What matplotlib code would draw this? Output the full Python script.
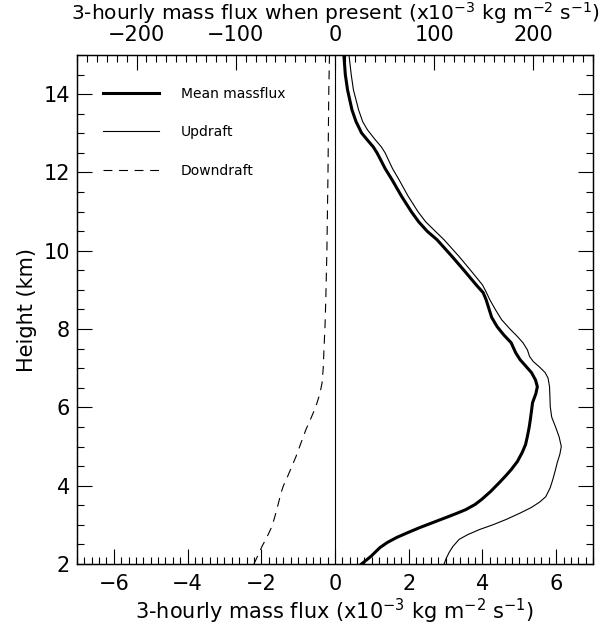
import matplotlib
matplotlib.use('Agg')
import matplotlib.pyplot as plt
from matplotlib.ticker import MultipleLocator

# mean mass flux (thick)
mean_height = [2.0, 2.2, 2.42, 2.55, 2.68, 2.8, 2.93, 3.06, 3.19, 3.3, 3.39, 3.52,
               3.65, 3.85, 4.08, 4.25, 4.41, 4.62, 4.85, 5.05, 5.26, 5.5, 5.69, 5.9,
               6.12, 6.35, 6.53, 6.7, 6.89, 7.05, 7.22, 7.4, 7.65, 7.85, 8.06, 8.3,
               8.57, 8.75, 8.93, 9.13, 9.5, 9.85, 10.28, 10.5, 10.74, 11.0, 11.4,
               11.81, 12.1, 12.32, 12.5, 12.65, 12.85, 13.01, 13.3, 13.6, 14.11,
               14.5, 15.0]
mean_flux = [0.72, 0.98, 1.22, 1.42, 1.68, 1.97, 2.30, 2.66, 3.02, 3.32, 3.55, 3.80,
             3.98, 4.22, 4.46, 4.63, 4.78, 4.95, 5.08, 5.17, 5.22, 5.27, 5.30, 5.33,
             5.36, 5.45, 5.49, 5.44, 5.33, 5.18, 5.02, 4.90, 4.78, 4.58, 4.40, 4.25,
             4.16, 4.10, 4.02, 3.83, 3.50, 3.18, 2.77, 2.50, 2.27, 2.07, 1.80,
             1.55, 1.36, 1.24, 1.14, 1.04, 0.86, 0.72, 0.57, 0.46, 0.34,
             0.28, 0.24]

# updraft (thin)
up_height = [2.0, 2.15, 2.3, 2.45, 2.63, 2.75, 2.88, 3.0, 3.14, 3.3, 3.44, 3.58,
             3.72, 3.95, 4.16, 4.4, 4.59, 4.8, 5.0, 5.25, 5.51, 5.75, 6.02, 6.3,
             6.53, 6.75, 6.89, 7.03, 7.17, 7.3, 7.47, 7.65, 7.81, 8.0, 8.24, 8.5,
             8.75, 8.95, 9.13, 9.5, 9.85, 10.28, 10.5, 10.74, 11.0, 11.4, 11.81,
             12.1, 12.32, 12.5, 12.65, 12.85, 13.09, 13.3, 13.6, 14.11, 14.5, 15.0]
up_flux = [2.96, 3.02, 3.10, 3.20, 3.37, 3.60, 3.92, 4.28, 4.65, 5.02, 5.32, 5.55,
           5.72, 5.84, 5.91, 5.98, 6.03, 6.10, 6.14, 6.08, 5.98, 5.88, 5.84, 5.83,
           5.82, 5.78, 5.70, 5.55, 5.38, 5.28, 5.22, 5.10, 4.95, 4.75, 4.52, 4.35,
           4.20, 4.10, 4.00, 3.68, 3.37, 2.96, 2.72, 2.46, 2.25, 1.98, 1.74,
           1.56, 1.45, 1.36, 1.26, 1.08, 0.88, 0.75, 0.64, 0.50, 0.44, 0.38]

# downdraft (dashed)
down_height = [2.0, 2.2, 2.45, 2.7, 2.96, 3.25, 3.57, 3.8, 4.0, 4.16, 4.45, 4.74,
               5.1, 5.43, 5.75, 6.02, 6.35, 6.63, 7.0, 7.47, 8.1, 8.75, 10.0, 12.0,
               14.0, 15.0]
down_flux = [-2.2, -2.1, -1.98, -1.84, -1.71, -1.62, -1.53, -1.47, -1.40, -1.32,
             -1.19, -1.06, -0.92, -0.79, -0.64, -0.52, -0.41, -0.35, -0.32, -0.30,
             -0.27, -0.25, -0.22, -0.19, -0.17, -0.15]

fs = 15
fig = plt.figure(figsize=(6.14, 6.29), dpi=100)
ax = fig.add_axes([77/614, 65/629, 516/614, 509/629])

ax.plot(mean_flux, mean_height, color='k', lw=2.2, label='Mean massflux')
ax.plot(up_flux, up_height, color='k', lw=0.8, label='Updraft')
ax.plot(down_flux, down_height, color='k', lw=0.8, ls=(0, (8, 6)), label='Downdraft')
ax.axvline(0, color='k', lw=0.8)

ax.set_xlim(-7, 7)
ax.set_ylim(2, 15)
ax.xaxis.set_major_locator(MultipleLocator(2))
ax.xaxis.set_minor_locator(MultipleLocator(0.2))
ax.yaxis.set_major_locator(MultipleLocator(2))
ax.yaxis.set_minor_locator(MultipleLocator(0.5))
ax.tick_params(which='both', direction='in', top=False, right=True, labelsize=fs)
ax.tick_params(which='major', length=11, width=0.8)
ax.tick_params(which='minor', length=5, width=0.8)
ax.tick_params(axis='x', pad=7)
ax.tick_params(axis='y', pad=5)
ax.set_xlabel('3-hourly mass flux (x10$^{-3}$ kg m$^{-2}$ s$^{-1}$)', fontsize=fs, labelpad=2)
ax.set_ylabel('Height (km)', fontsize=fs, labelpad=5)

ax2 = ax.twiny()
ax2.set_xlim(-260, 260)
ax2.xaxis.set_major_locator(MultipleLocator(100))
ax2.xaxis.set_minor_locator(MultipleLocator(10))
ax2.tick_params(which='both', direction='in', labelsize=fs, pad=7)
ax2.tick_params(which='major', length=11, width=0.8)
ax2.tick_params(which='minor', length=5, width=0.8)
ax2.set_xlabel('3-hourly mass flux when present (x10$^{-3}$ kg m$^{-2}$ s$^{-1}$)',
               fontsize=14.5, labelpad=4)

for a in (ax, ax2):
    for s in a.spines.values():
        s.set_linewidth(0.9)

ax.legend(loc='upper left', frameon=False, fontsize=10, handlelength=4.0,
          handletextpad=1.6, labelspacing=1.75, bbox_to_anchor=(0.04, 0.948),
          borderaxespad=0)

fig.savefig('out.png', dpi=100)
